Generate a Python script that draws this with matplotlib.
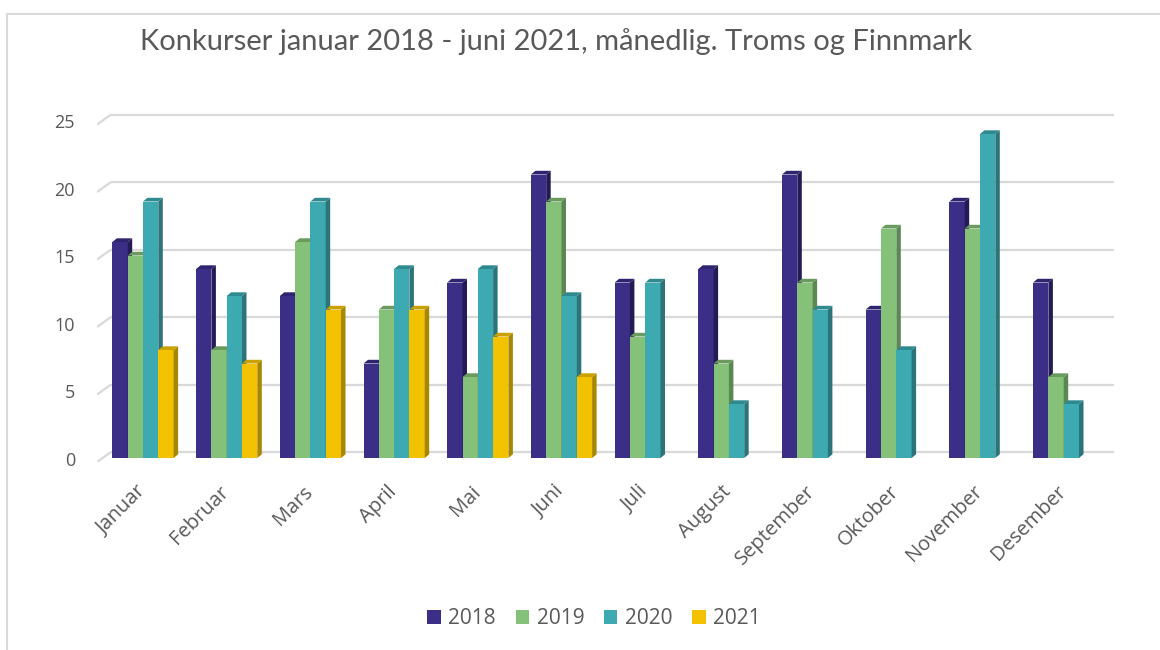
import numpy as np
import matplotlib
matplotlib.use("Agg")
import matplotlib.pyplot as plt
from matplotlib.patches import Polygon, Rectangle, Patch

# ---- data ----
months = ["Januar", "Februar", "Mars", "April", "Mai", "Juni", "Juli",
          "August", "September", "Oktober", "November", "Desember"]
years = ["2018", "2019", "2020", "2021"]
v2018 = [16, 14, 12, 7, 13, 21, 13, 14, 21, 11, 19, 13]
v2019 = [15, 8, 16, 11, 6, 19, 9, 7, 13, 17, 17, 6]
v2020 = [19, 12, 19, 14, 14, 12, 13, 4, 11, 8, 24, 4]
v2021 = [8, 7, 11, 11, 9, 6, None, None, None, None, None, None]
yticks = [0, 5, 10, 15, 20, 25]
title = "Konkurser januar 2018 - juni 2021, månedlig. Troms og Finnmark"

series = [v2018, v2019, v2020, v2021]
front_c = ["#3B2E87", "#86C17A", "#3DA9B1", "#F2C200"]
side_c = ["#241B55", "#5B8752", "#2B7479", "#A88700"]
top_c = ["#2E2470", "#6A9A5E", "#2F8A90", "#C9A100"]

W, H = 1160, 650
fig = plt.figure(figsize=(W / 100, H / 100), dpi=100)
fig.patch.set_facecolor("white")

# outer chart border (open at right/bottom as in reference)
fig.add_artist(Rectangle((7 / W, -0.1), 1.2, (650 - 14) / H + 0.1,
                         transform=fig.transFigure, fill=False,
                         edgecolor="#D9D9D9", lw=1.5))

# axes in pixel-matched placement
px_left, px_right, px_bot, px_top = 97, 1114, 462, 110
ax = fig.add_axes([px_left / W, (H - px_bot) / H,
                   (px_right - px_left) / W, (px_bot - px_top) / H])
xpx = 83.7     # pixels per category
ypx = 13.5     # pixels per unit
x0 = 143       # pixel of first category centre
base = 458     # pixel of value 0 (bar base)
ax.set_xlim((px_left - x0) / xpx, (px_right - x0) / xpx)
ax.set_ylim((base - px_bot) / ypx, (base - px_top) / ypx)
ax.axis("off")

# 3D depth offsets in data units
gdx, gdy = 14 / xpx, 6 / ypx        # back plane
fdy = -4 / ypx                      # front plane of axis
bdx, bdy = 4.5 / xpx, 3.7 / ypx      # bar depth

xl, xr = ax.get_xlim()
for t in yticks:
    ax.plot([xl, xl + gdx], [t + fdy, t + gdy], color="#D9D9D9", lw=1.6,
            solid_capstyle="butt", zorder=1)
    ax.plot([xl + gdx, xr], [t + gdy, t + gdy], color="#D9D9D9", lw=1.6,
            solid_capstyle="butt", zorder=1)
    ax.text((75 - x0) / xpx, t - 0.22, str(t), ha="right", va="center",
            fontsize=13, color="#595959", family="Open Sans", clip_on=False)

bw = 15.3 / xpx
x = np.arange(len(months))
for j, vals in enumerate(series):
    hv = np.array([np.nan if v is None else v for v in vals], dtype=float)
    pos = x + (j - 1.5) * bw
    bars = ax.bar(pos, hv, width=bw, color=front_c[j], lw=0, zorder=3 + j)
    for b in bars:
        h = b.get_height()
        if not np.isfinite(h):
            continue
        l = b.get_x()
        r = l + b.get_width()
        ax.add_patch(Polygon([(r, 0), (r + bdx, bdy), (r + bdx, h + bdy), (r, h)],
                             closed=True, facecolor=side_c[j], lw=0, zorder=3 + j))
        ax.add_patch(Polygon([(l, h), (l + bdx, h + bdy), (r + bdx, h + bdy), (r, h)],
                             closed=True, facecolor=top_c[j], lw=0, zorder=3 + j))

for i, m in enumerate(months):
    ax.text(i - 0.09, -1.75, m, ha="right", va="top", rotation=45,
            rotation_mode="anchor", fontsize=14.5, color="#595959",
            family="Open Sans", clip_on=False)

fig.text(556 / W, 1 - 42 / H, title, ha="center", va="center",
         fontsize=21, color="#595959", family="Lato")

handles = [Patch(facecolor=c, edgecolor="none") for c in front_c]
fig.legend(handles, years, loc="center", bbox_to_anchor=(594 / W, 1 - 619 / H),
           ncol=4, frameon=False, handlelength=0.65, handleheight=0.65,
           handletextpad=0.35, columnspacing=0.95,
           prop={"family": "Open Sans", "size": 15}, labelcolor="#595959")

fig.savefig("out.png", dpi=100, facecolor="white")
